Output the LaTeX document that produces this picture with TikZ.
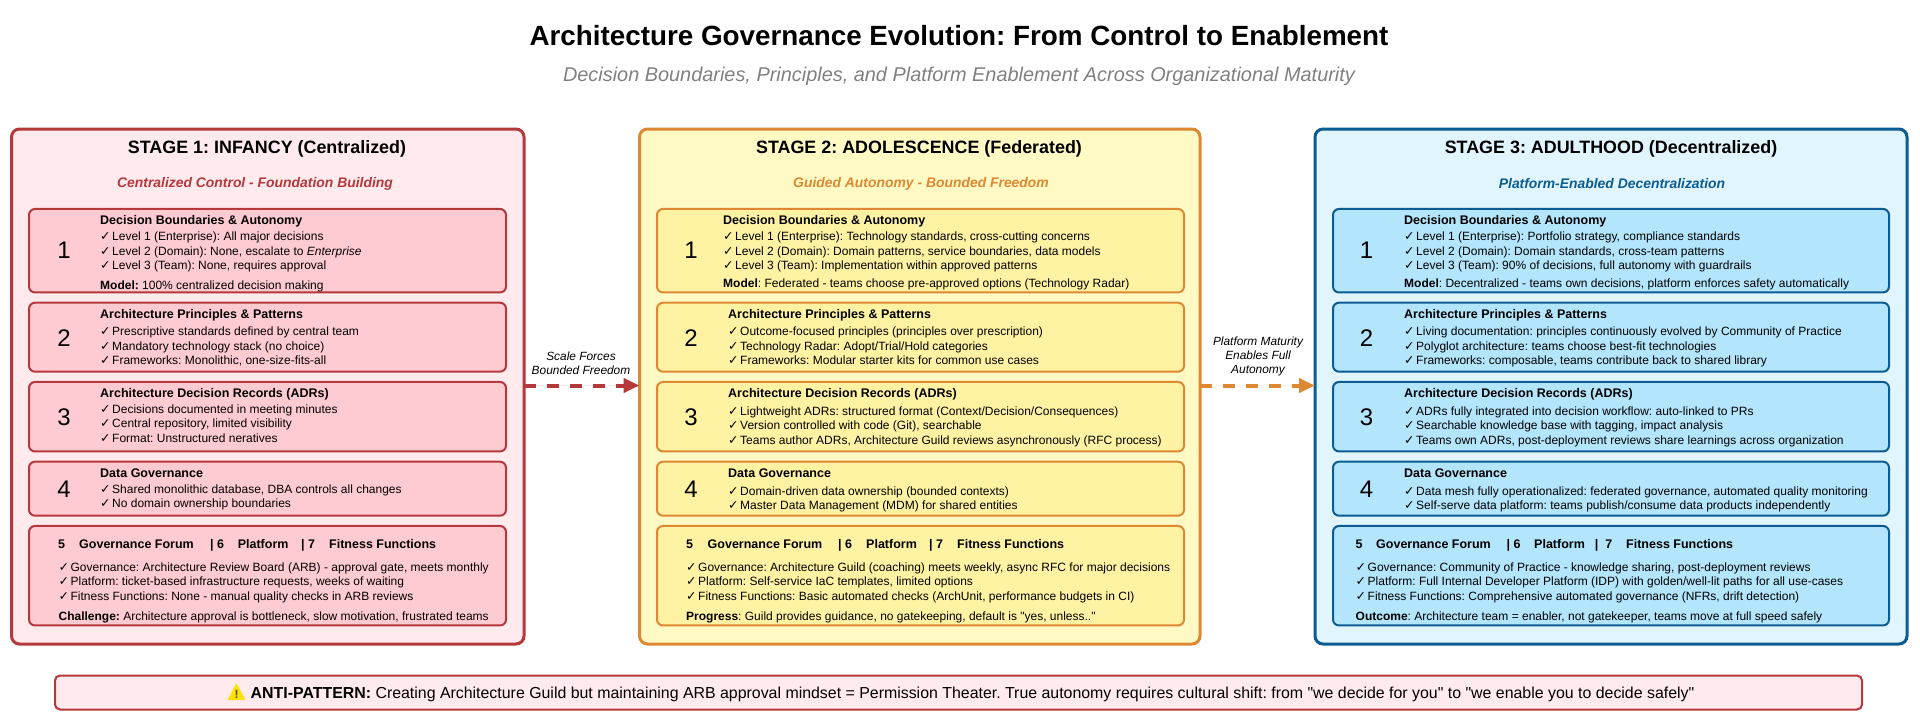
\documentclass[tikz,border=0pt]{standalone}
\usepackage{fontspec}
\usepackage{xcolor}
\setmainfont{Liberation Sans}[Ligatures=TeXOff]
\newfontfamily\chkfont{DejaVu Sans}
\usetikzlibrary{positioning, arrows.meta}
\definecolor{redline}{HTML}{B5383B}
\definecolor{redouter}{HTML}{FFEBEE}
\definecolor{redinner}{HTML}{FFCBD3}
\definecolor{orangeline}{HTML}{DD8832}
\definecolor{orangeouter}{HTML}{FFF9C4}
\definecolor{orangeinner}{HTML}{FFF3A3}
\definecolor{blueline}{HTML}{0B5C92}
\definecolor{blueouter}{HTML}{E1F5FE}
\definecolor{blueinner}{HTML}{B3E5FC}
\newcommand{\chk}{\makebox[12pt][l]{{\chkfont\fontsize{12.5}{12}\selectfont ✓}}}
\frenchspacing
\tikzset{
  stagebox/.style={draw, rectangle, rounded corners=8pt, line width=3pt, inner sep=0pt, outer sep=0pt},
  rowbox/.style={draw, rectangle, rounded corners=6pt, line width=2pt, minimum height=#1, inner sep=0pt, outer sep=0pt},
  stagetitle/.style={font=\bfseries\fontsize{17.9}{20}\selectfont, inner sep=0pt},
  stagemotto/.style={font=\bfseries\itshape\fontsize{13.9}{15}\selectfont, inner sep=0pt},
  rownum/.style={font=\fontsize{24}{26}\selectfont, inner sep=0pt},
  rowhead/.style={anchor=base west, font=\bfseries\fontsize{12.5}{14}\selectfont, inner sep=0pt},
  rowtext/.style={anchor=base west, font=\fontsize{12}{14}\selectfont, inner sep=0pt},
  arrowtext/.style={align=center, font=\itshape\fontsize{11.9}{14}\selectfont, inner sep=0pt},
  flowarrow/.style={line width=4pt, dash pattern=on 12pt off 11pt, -{Triangle[length=16pt,width=14pt]}}
}
\begin{document}
\begin{tikzpicture}[x=1pt, y=-1pt]
\useasboundingbox (0,0) rectangle (1920,721);

% Title and subtitle
\node[font=\bfseries\fontsize{27.8}{32}\selectfont, inner sep=0pt] (title) at (959,35.5) {Architecture Governance Evolution: From Control to Enablement};
\node[font=\itshape\fontsize{19.9}{22}\selectfont, text=gray, inner sep=0pt] (subtitle) at (959,76.5) {Decision Boundaries, Principles, and Platform Enablement Across Organizational Maturity};

% Stage frames
\node[stagebox, draw=redline, fill=redouter, minimum width=512.5, minimum height=515] (stageA) at (267.75,386.5) {};
\node[stagebox, draw=orangeline, fill=orangeouter, minimum width=560.5, minimum height=515] (stageB) at (919.75,386.5) {};
\node[stagebox, draw=blueline, fill=blueouter, minimum width=592, minimum height=515] (stageC) at (1611,386.5) {};

% Rows of each stage
\foreach \i/\yc/\hh in {1/250.7/83.5, 2/337.2/69, 3/416.7/69.5, 4/488.7/54, 5/575.7/99.5} {
  \node[rowbox=\hh, draw=redline, fill=redinner, minimum width=477] (rowA\i) at (267.5,\yc) {};
  \node[rowbox=\hh, draw=orangeline, fill=orangeinner, minimum width=527] (rowB\i) at (920.5,\yc) {};
  \node[rowbox=\hh, draw=blueline, fill=blueinner, minimum width=556] (rowC\i) at (1611,\yc) {};
}
\foreach \i/\yc in {1/250, 2/338, 3/417, 4/489} {
  \node[rownum] (numA\i) at (64,\yc) {\i};
  \node[rownum] (numB\i) at (691,\yc) {\i};
  \node[rownum] (numC\i) at (1366.5,\yc) {\i};
}

% Stage 1
\node[stagetitle] (titleA) at (267,148.5) {STAGE 1: INFANCY (Centralized)};
\node[stagemotto, text=redline] (mottoA) at (255,183.5) {Centralized Control - Foundation Building};
\node[rowhead] (headA1) at (100,224) {Decision Boundaries \& Autonomy};
\node[rowtext] (textA11) at (100,240.7) {\chk Level 1 (Enterprise): All major decisions};
\node[rowtext] (textA12) at (100,255) {\chk Level 2 (Domain): None, escalate to \textit{Enterprise}};
\node[rowtext] (textA13) at (100,269.7) {\chk Level 3 (Team): None, requires approval};
\node[rowtext] (textA14) at (100,289.7) {\textbf{Model:} 100\% centralized decision making};
\node[rowhead] (headA2) at (100,318.7) {Architecture Principles \& Patterns};
\node[rowtext] (textA21) at (100,335.7) {\chk Prescriptive standards defined by central team};
\node[rowtext] (textA22) at (100,350) {\chk Mandatory technology stack (no choice)};
\node[rowtext] (textA23) at (100,364) {\chk Frameworks: Monolithic, one-size-fits-all};
\node[rowhead] (headA3) at (100,397.7) {Architecture Decision Records (ADRs)};
\node[rowtext] (textA31) at (100,413.7) {\chk Decisions documented in meeting minutes};
\node[rowtext] (textA32) at (100,427.7) {\chk Central repository, limited visibility};
\node[rowtext] (textA33) at (100,442.7) {\chk Format: Unstructured neratives};
\node[rowhead] (headA4) at (100,477.7) {Data Governance};
\node[rowtext] (textA41) at (100,493.7) {\chk Shared monolithic database, DBA controls all changes};
\node[rowtext] (textA42) at (100,507) {\chk No domain ownership boundaries};
\node[rowhead] (headA51) at (58,548.7) {5};
\node[rowhead] (headA52) at (79,548.7) {Governance Forum};
\node[rowhead] (headA53) at (210,548.7) {| 6};
\node[rowhead] (headA54) at (237.6,548.7) {Platform};
\node[rowhead] (headA55) at (301,548.7) {| 7};
\node[rowhead] (headA56) at (329,548.7) {Fitness Functions};
\node[rowtext] (textA51) at (58.4,571.7) {\chk Governance: Architecture Review Board (ARB) - approval gate, meets monthly};
\node[rowtext] (textA52) at (58.4,585.7) {\chk Platform: ticket-based infrastructure requests, weeks of waiting};
\node[rowtext] (textA53) at (58.4,600.7) {\chk Fitness Functions: None - manual quality checks in ARB reviews};
\node[rowtext] (textA54) at (58.4,620.7) {\textbf{Challenge:} Architecture approval is bottleneck, slow motivation, frustrated teams};

% Stage 2
\node[stagetitle] (titleB) at (919,148.5) {STAGE 2: ADOLESCENCE (Federated)};
\node[stagemotto, text=orangeline] (mottoB) at (921,183.5) {Guided Autonomy - Bounded Freedom};
\node[rowhead] (headB1) at (723,224) {Decision Boundaries \& Autonomy};
\node[rowtext] (textB11) at (723,240.7) {\chk Level 1 (Enterprise): Technology standards, cross-cutting concerns};
\node[rowtext] (textB12) at (723,255) {\chk Level 2 (Domain): Domain patterns, service boundaries, data models};
\node[rowtext] (textB13) at (723,269.7) {\chk Level 3 (Team): Implementation within approved patterns};
\node[rowtext] (textB14) at (723,287.7) {\textbf{Model}: Federated - teams choose pre-approved options (Technology Radar)};
\node[rowhead] (headB2) at (728,318.7) {Architecture Principles \& Patterns};
\node[rowtext] (textB21) at (728,335.7) {\chk Outcome-focused principles (principles over prescription)};
\node[rowtext] (textB22) at (728,350) {\chk Technology Radar: Adopt/Trial/Hold categories};
\node[rowtext] (textB23) at (728,364) {\chk Frameworks: Modular starter kits for common use cases};
\node[rowhead] (headB3) at (728,397.7) {Architecture Decision Records (ADRs)};
\node[rowtext] (textB31) at (728,415.7) {\chk Lightweight ADRs: structured format (Context/Decision/Consequences)};
\node[rowtext] (textB32) at (728,429.7) {\chk Version controlled with code (Git), searchable};
\node[rowtext] (textB33) at (728,444.7) {\chk Teams author ADRs, Architecture Guild reviews asynchronously (RFC process)};
\node[rowhead] (headB4) at (728,477.7) {Data Governance};
\node[rowtext] (textB41) at (728,495.7) {\chk Domain-driven data ownership (bounded contexts)};
\node[rowtext] (textB42) at (728,509) {\chk Master Data Management (MDM) for shared entities};
\node[rowhead] (headB51) at (686,548.7) {5};
\node[rowhead] (headB52) at (707.5,548.7) {Governance Forum};
\node[rowhead] (headB53) at (838,548.7) {| 6};
\node[rowhead] (headB54) at (866,548.7) {Platform};
\node[rowhead] (headB55) at (929,548.7) {| 7};
\node[rowhead] (headB56) at (957,548.7) {Fitness Functions};
\node[rowtext] (textB51) at (686,571.7) {\chk Governance: Architecture Guild (coaching) meets weekly, async RFC for major decisions};
\node[rowtext] (textB52) at (686,585.7) {\chk Platform: Self-service IaC templates, limited options};
\node[rowtext] (textB53) at (686,600.7) {\chk Fitness Functions: Basic automated checks (ArchUnit, performance budgets in CI)};
\node[rowtext] (textB54) at (686,620.7) {\textbf{Progress}: Guild provides guidance, no gatekeeping, default is "yes, unless.."};

% Stage 3
\node[stagetitle] (titleC) at (1611,148.5) {STAGE 3: ADULTHOOD (Decentralized)};
\node[stagemotto, text=blueline] (mottoC) at (1612,183.5) {Platform-Enabled Decentralization};
\node[rowhead] (headC1) at (1404,224) {Decision Boundaries \& Autonomy};
\node[rowtext] (textC11) at (1404,240.7) {\chk Level 1 (Enterprise): Portfolio strategy, compliance standards};
\node[rowtext] (textC12) at (1404,255) {\chk Level 2 (Domain): Domain standards, cross-team patterns};
\node[rowtext] (textC13) at (1404,269.7) {\chk Level 3 (Team): 90\% of decisions, full autonomy with guardrails};
\node[rowtext] (textC14) at (1404,287.7) {\textbf{Model}: Decentralized - teams own decisions, platform enforces safety automatically};
\node[rowhead] (headC2) at (1404,318.7) {Architecture Principles \& Patterns};
\node[rowtext] (textC21) at (1404,335.7) {\chk Living documentation: principles continuously evolved by Community of Practice};
\node[rowtext] (textC22) at (1404,350) {\chk Polyglot architecture: teams choose best-fit technologies};
\node[rowtext] (textC23) at (1404,364) {\chk Frameworks: composable, teams contribute back to shared library};
\node[rowhead] (headC3) at (1404,397.7) {Architecture Decision Records (ADRs)};
\node[rowtext] (textC31) at (1404,415.7) {\chk ADRs fully integrated into decision workflow: auto-linked to PRs};
\node[rowtext] (textC32) at (1404,429.7) {\chk Searchable knowledge base with tagging, impact analysis};
\node[rowtext] (textC33) at (1404,444.7) {\chk Teams own ADRs, post-deployment reviews share learnings across organization};
\node[rowhead] (headC4) at (1404,477.7) {Data Governance};
\node[rowtext] (textC41) at (1404,495.7) {\chk Data mesh fully operationalized: federated governance, automated quality monitoring};
\node[rowtext] (textC42) at (1404,509) {\chk Self-serve data platform: teams publish/consume data products independently};
\node[rowhead] (headC51) at (1355.5,548.7) {5};
\node[rowhead] (headC52) at (1376,548.7) {Governance Forum};
\node[rowhead] (headC53) at (1506.5,548.7) {| 6};
\node[rowhead] (headC54) at (1534,548.7) {Platform};
\node[rowhead] (headC55) at (1594.7,548.7) {| \ 7};
\node[rowhead] (headC56) at (1626,548.7) {Fitness Functions};
\node[rowtext] (textC51) at (1355.5,571.7) {\chk Governance: Community of Practice - knowledge sharing, post-deployment reviews};
\node[rowtext] (textC52) at (1355.5,585.7) {\chk Platform: Full Internal Developer Platform (IDP) with golden/well-lit paths for all use-cases};
\node[rowtext] (textC53) at (1355.5,600.7) {\chk Fitness Functions: Comprehensive automated governance (NFRs, drift detection)};
\node[rowtext] (textC54) at (1355.5,620.7) {\textbf{Outcome}: Architecture team = enabler, not gatekeeper, teams move at full speed safely};

% Arrows between stages
\draw[flowarrow, draw=redline, fill=redline] ([yshift=1pt]stageA.east) -- ([yshift=1pt]stageB.west);
\draw[flowarrow, draw=orangeline, fill=orangeline] ([yshift=1pt]stageB.east) -- ([yshift=1pt]stageC.west);
\node[arrowtext] (labelAB) at (581,363) {Scale Forces\\Bounded Freedom};
\node[arrowtext] (labelBC) at (1258,356) {Platform Maturity\\Enables Full\\Autonomy};

% Anti-pattern banner
\node[draw=redline, fill=redouter, rectangle, rounded corners=5pt, line width=2pt, minimum width=1807, minimum height=34, inner sep=0pt] (antiBox) at (958.5,692.5) {};
\node[font=\fontsize{15.9}{18}\selectfont, inner sep=0pt, anchor=base west] (antiText) at (250.5,698) {\textbf{ANTI-PATTERN:} Creating Architecture Guild but maintaining ARB approval mindset = Permission Theater. True autonomy requires cultural shift: from "we decide for you" to "we enable you to decide safely"};
\fill[yellow!85!orange, rounded corners=1pt] (236.5,683) -- (245.5,700) -- (227.5,700) -- cycle;
\node[font=\bfseries\fontsize{12}{12}\selectfont, text=black!70, inner sep=0pt] (antiMark) at (236.5,694) {!};
\end{tikzpicture}
\end{document}
